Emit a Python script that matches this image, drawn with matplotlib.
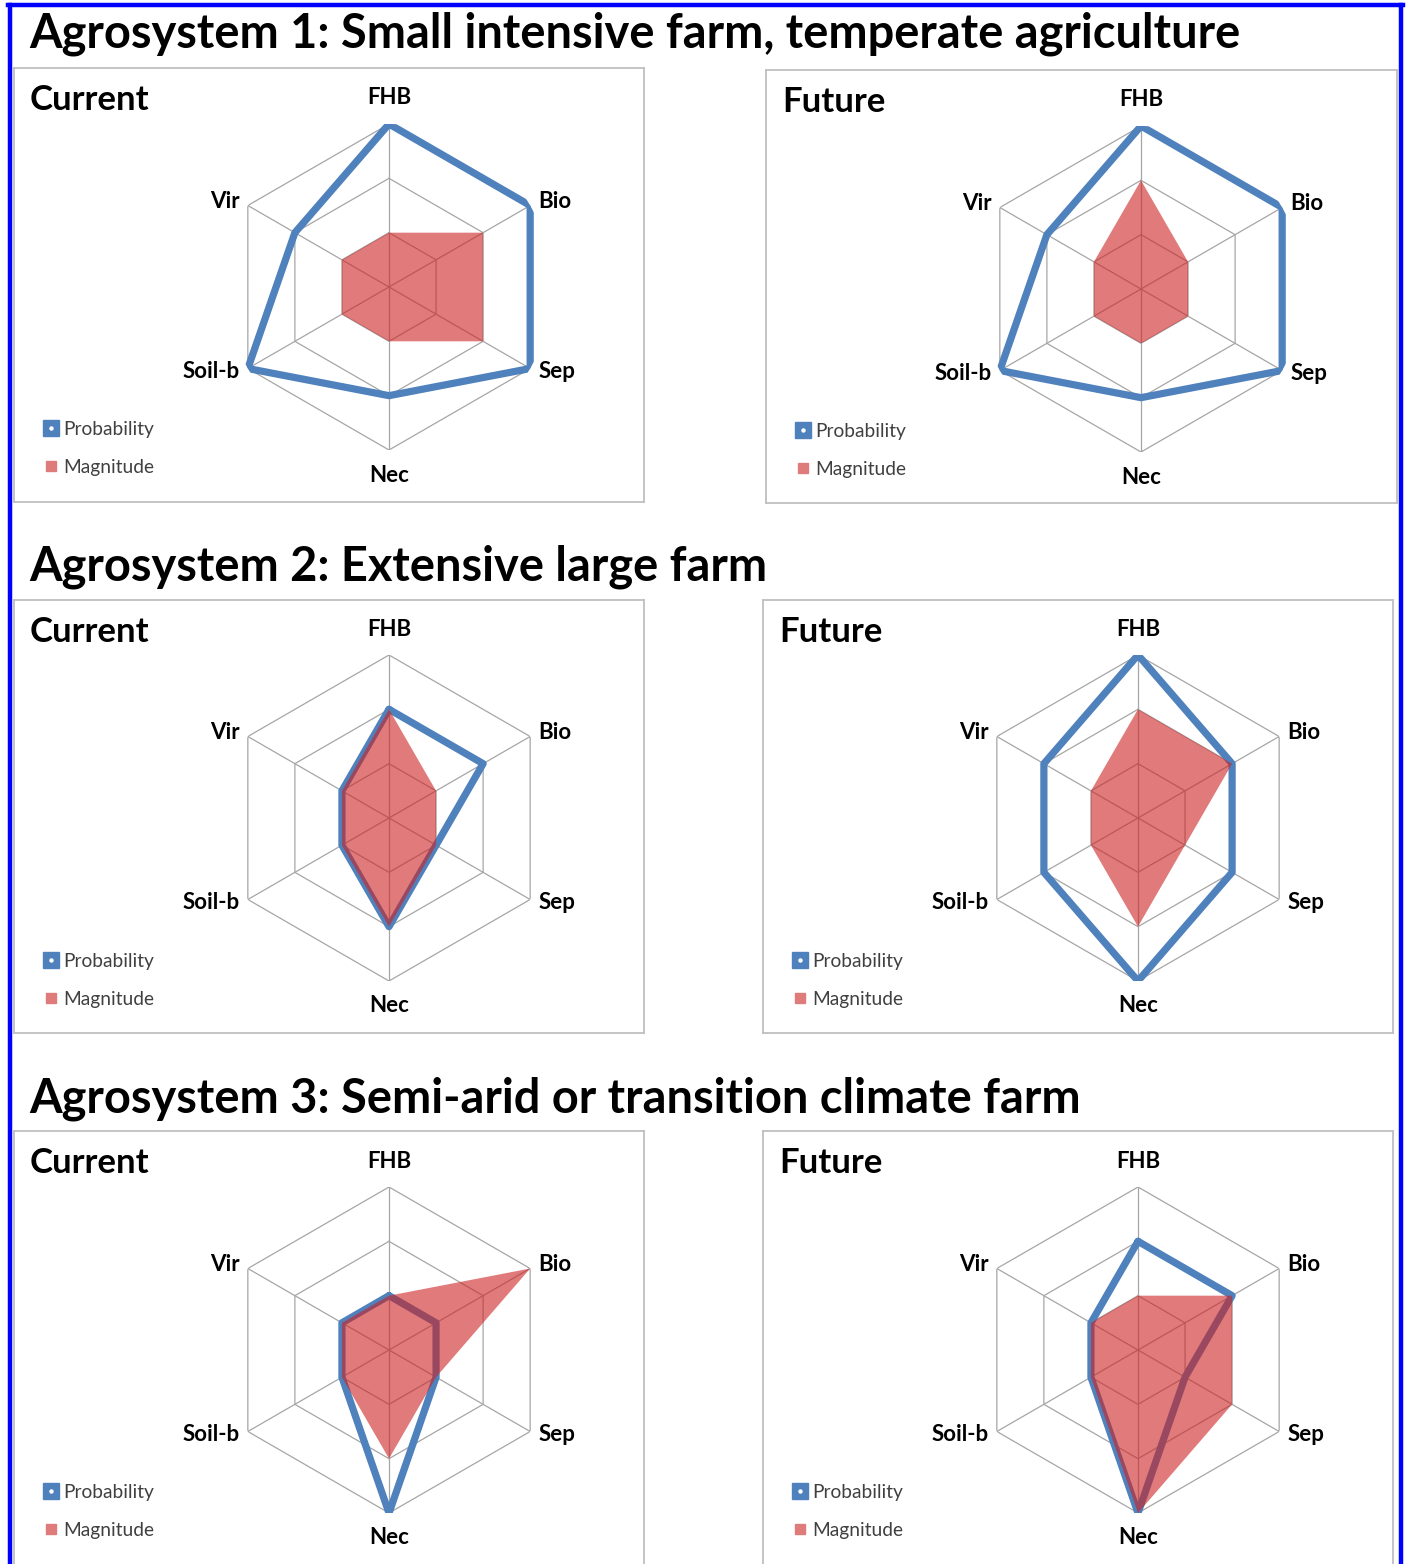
import matplotlib
matplotlib.use('Agg')
import matplotlib.pyplot as plt
import numpy as np
from matplotlib.lines import Line2D

plt.rcParams['font.family'] = ['Lato', 'DejaVu Sans']

W, H = 1408, 1564
DPI = 100

# ---------------- data ----------------
categories = ['FHB', 'Bio', 'Sep', 'Nec', 'Soil-b', 'Vir']
section_titles = ['Agrosystem 1: Small intensive farm, temperate agriculture',
                  'Agrosystem 2: Extensive large farm',
                  'Agrosystem 3: Semi-arid or transition climate farm']
panel_titles = ['Current', 'Future']
series_names = ['Probability', 'Magnitude']
levels = [1, 2, 3]

prob_a1_current = [3, 3, 3, 2, 3, 2]
mag_a1_current = [1, 2, 2, 1, 1, 1]
prob_a1_future = [3, 3, 3, 2, 3, 2]
mag_a1_future = [2, 1, 1, 1, 1, 1]
prob_a2_current = [2, 2, 1, 2, 1, 1]
mag_a2_current = [2, 1, 1, 2, 1, 1]
prob_a2_future = [3, 2, 2, 3, 2, 2]
mag_a2_future = [2, 2, 1, 2, 1, 1]
prob_a3_current = [1, 1, 1, 3, 1, 1]
mag_a3_current = [1, 3, 1, 2, 1, 1]
prob_a3_future = [2, 2, 1, 3, 1, 1]
mag_a3_future = [1, 2, 2, 3, 1, 1]

panels_data = [
    [(prob_a1_current, mag_a1_current), (prob_a1_future, mag_a1_future)],
    [(prob_a2_current, mag_a2_current), (prob_a2_future, mag_a2_future)],
    [(prob_a3_current, mag_a3_current), (prob_a3_future, mag_a3_future)],
]

# ---------------- layout (pixels) ----------------
boxes = [
    [(14, 68, 644, 502), (766, 70, 1397, 503)],
    [(14, 600, 644, 1033), (763, 600, 1393, 1033)],
    [(14, 1131, 644, 1572), (763, 1131, 1393, 1572)],
]
centers = [
    [(389, 287), (1141, 289)],
    [(389, 818), (1138, 818)],
    [(389, 1350), (1138, 1350)],
]
section_y = [34, 567, 1099]
R = 163

BLUE = '#4F81BD'
RED_FILL = (205 / 255, 35 / 255, 35 / 255)
RED_LEG = '#E07B7B'
GRID = '#A6A6A6'
FRAME = '#BFBFBF'


def fx(x):
    return x / W


def fy(y):
    return 1 - y / H


fig = plt.figure(figsize=(W / DPI, H / DPI), dpi=DPI)
fig.patch.set_facecolor('white')

label_offsets = {
    'FHB': ((0, 26), 'center', 'center'),
    'Bio': ((8, 4), 'left', 'center'),
    'Sep': ((8, -3), 'left', 'center'),
    'Nec': ((0, -25), 'center', 'center'),
    'Soil-b': ((-8, -3), 'right', 'center'),
    'Vir': ((-8, 4), 'right', 'center'),
}

n = len(categories)
theta = np.linspace(0, 2 * np.pi, n, endpoint=False)
theta_c = np.concatenate([theta, theta[:1]])

for r in range(3):
    fig.text(fx(29), fy(section_y[r]), section_titles[r], fontsize=33.8,
             fontweight='bold', ha='left', va='center', color='black')
    for c in range(2):
        x1, y1, x2, y2 = boxes[r][c]
        pax = fig.add_axes([fx(x1), fy(y2), fx(x2) - fx(x1), fy(y1) - fy(y2)])
        pax.set_xticks([])
        pax.set_yticks([])
        pax.patch.set_alpha(0)
        for s in pax.spines.values():
            s.set_color(FRAME)
            s.set_linewidth(1.3)
        fig.text(fx(x1 + 16), fy(y1 + 32), panel_titles[c], fontsize=25,
                 fontweight='bold', ha='left', va='center', color='black')

        cx, cy = centers[r][c]
        ax = fig.add_axes([fx(cx - R), fy(cy + R), 2 * R / W, 2 * R / H],
                          projection='polar')
        ax.set_theta_zero_location('N')
        ax.set_theta_direction(-1)
        ax.set_ylim(0, 3)
        ax.grid(False)
        ax.set_xticks([])
        ax.set_yticks([])
        ax.spines['polar'].set_visible(False)
        ax.patch.set_alpha(0)

        for lv in levels:
            ax.plot(theta_c, [lv] * (n + 1), color=GRID, lw=0.9, zorder=1)
        for t in theta:
            ax.plot([t, t], [0, levels[-1]], color=GRID, lw=0.9, zorder=1)

        prob, mag = panels_data[r][c]
        pv = list(prob) + [prob[0]]
        mv = list(mag) + [mag[0]]
        ax.plot(theta_c, pv, color=BLUE, lw=5.2, solid_joinstyle='round',
                solid_capstyle='round', zorder=2)
        ax.fill(theta_c, mv, color=RED_FILL, alpha=0.6, lw=0, zorder=3)

        for t, lab in zip(theta, categories):
            off, ha, va = label_offsets[lab]
            ax.annotate(lab, xy=(t, levels[-1]), xytext=off,
                        textcoords='offset pixels', ha=ha, va=va,
                        fontsize=16, fontweight='bold', color='black',
                        annotation_clip=False)

        h_prob = (Line2D([], [], marker='s', color=BLUE, markersize=12,
                         linestyle='none'),
                  Line2D([], [], marker='o', color='white', markersize=2.2,
                         linestyle='none'))
        h_mag = Line2D([], [], marker='s', color=RED_LEG, markersize=7,
                       linestyle='none')
        leg = pax.legend([h_prob, h_mag], series_names, loc='upper left',
                         bbox_to_anchor=(fx(x1 + 28), fy(y1 + 353)),
                         bbox_transform=fig.transFigure, frameon=False,
                         borderpad=0, borderaxespad=0, handlelength=0.9,
                         handletextpad=0.2, labelspacing=1.09, fontsize=13.8)
        for t in leg.get_texts():
            t.set_color('#404040')

# blue outer border
for xs, ys in [([9.5, 9.5], [5, H + 5]), ([8, 1403], [5, 5]),
               ([1401, 1401], [5, H + 5])]:
    fig.add_artist(Line2D([fx(v) for v in xs], [fy(v) for v in ys],
                          transform=fig.transFigure, color='#0000FF', lw=3.2))

fig.savefig('out.png', dpi=DPI)
